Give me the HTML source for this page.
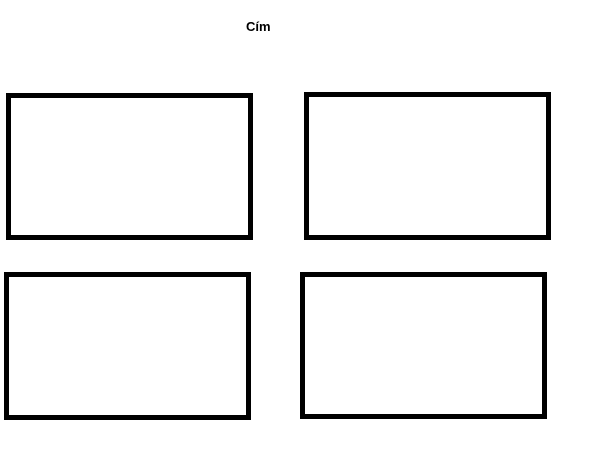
<!DOCTYPE html>
<html><head><meta charset="utf-8"><style>
html,body{margin:0;padding:0;background:#fff;width:595px;height:465px;overflow:hidden;position:relative}
.t{position:absolute;left:246px;top:19px;font:bold 13px "Liberation Sans",sans-serif;color:#000}
.b{position:absolute;box-sizing:border-box;border:5px solid #000;background:#fff}
</style></head><body>
<div class="t">Cím</div>
<div class="b" style="left:6px;top:93px;width:247px;height:147px"></div>
<div class="b" style="left:304px;top:92px;width:247px;height:148px"></div>
<div class="b" style="left:4px;top:272px;width:247px;height:148px"></div>
<div class="b" style="left:300px;top:272px;width:247px;height:147px"></div>
</body></html>
